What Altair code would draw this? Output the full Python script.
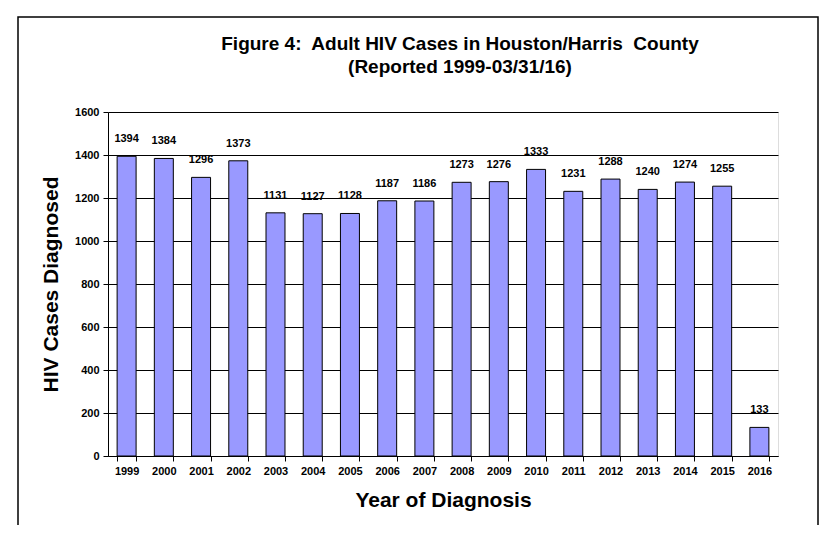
import altair as alt
import pandas as pd

years = ["1999", "2000", "2001", "2002", "2003", "2004", "2005", "2006", "2007",
         "2008", "2009", "2010", "2011", "2012", "2013", "2014", "2015", "2016"]
cases = [1394, 1384, 1296, 1373, 1131, 1127, 1128, 1187, 1186,
         1273, 1276, 1333, 1231, 1288, 1240, 1274, 1255, 133]
y_ticks = [0, 200, 400, 600, 800, 1000, 1200, 1400, 1600]

df = pd.DataFrame({"year": years, "cases": cases})
FONT = "Liberation Sans"

x_enc = alt.X(
    "year:N", sort=None,
    scale=alt.Scale(paddingInner=0.49, paddingOuter=0.245),
    axis=alt.Axis(
        title="Year of Diagnosis", labelAngle=0, labelFont=FONT, labelFontSize=11,
        labelFontWeight="bold", labelColor="black", labelPadding=4,
        tickBand="extent", tickSize=5, tickColor="black", domainColor="black",
        titleFont=FONT, titleFontSize=21, titleFontWeight="bold", titleColor="black",
        titlePadding=13,
    ),
)
y_enc = alt.Y(
    "cases:Q",
    scale=alt.Scale(domain=[0, 1600], nice=False),
    axis=alt.Axis(
        title="HIV Cases Diagnosed", values=y_ticks, format="d", grid=True,
        gridColor="black", gridOpacity=1, gridWidth=1, labelFont=FONT,
        labelFontSize=11, labelFontWeight="bold", labelColor="black", labelPadding=4,
        tickSize=5, tickColor="black", domainColor="black",
        titleFont=FONT, titleFontSize=21, titleFontWeight="bold", titleColor="black",
        titlePadding=13,
    ),
)

bars = alt.Chart(df).mark_bar(color="#9999FF", stroke="black", strokeWidth=1).encode(
    x=x_enc, y=y_enc
)
labels = alt.Chart(df).mark_text(
    font=FONT, fontSize=11, fontWeight="bold", color="black", baseline="bottom", dy=-12
).encode(x=alt.X("year:N", sort=None), y="cases:Q", text="cases:Q")

frame = alt.Chart(pd.DataFrame({"a": [0]})).mark_rect(
    fill="transparent", stroke="black", strokeWidth=1.5
).encode(x=alt.value(-90), x2=alt.value(710), y=alt.value(-95), y2=alt.value(500))

chart = alt.layer(bars, labels, frame).properties(
    width=670, height=344,
    title=alt.TitleParams(
        text=["Figure 4:\u00a0 Adult HIV Cases in Houston/Harris\u00a0 County",
              "(Reported 1999-03/31/16)"],
        font=FONT, fontSize=19, fontWeight="bold", color="black", anchor="middle",
        frame="group", dx=17, offset=-61, lineHeight=23,
    ),
    autosize=alt.AutoSizeParams(type="none"),
    padding={"left": 100, "top": 104, "right": 48, "bottom": 69},
).configure_view(stroke="black", strokeWidth=1.5).configure(background="white")

chart.save("out.html", embed_options={"renderer": "svg", "actions": False})
